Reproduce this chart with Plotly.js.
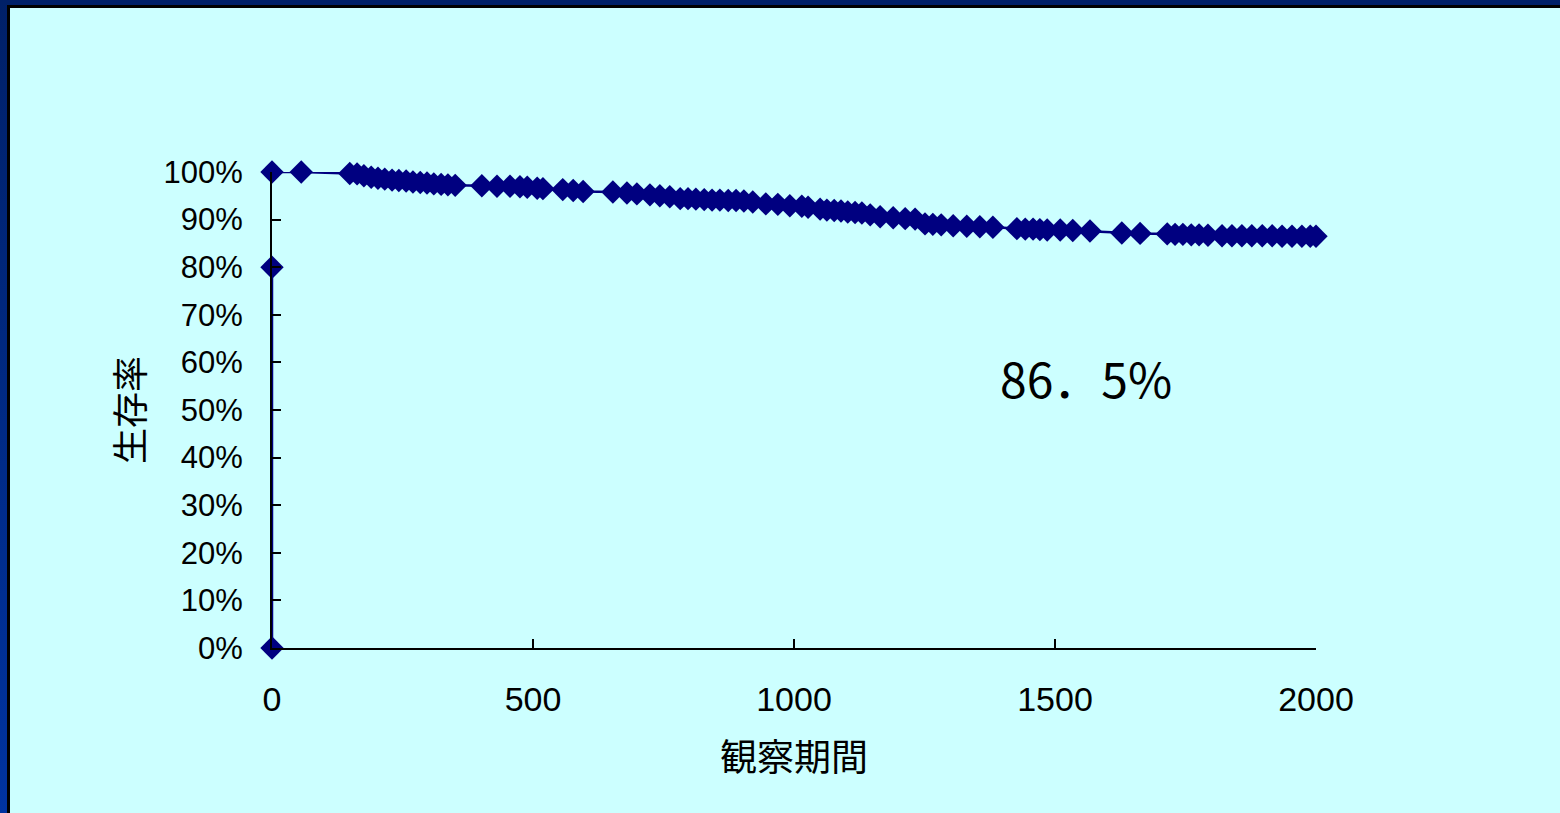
<!DOCTYPE html>
<html>
<head>
<meta charset="utf-8">
<script src="https://cdn.plot.ly/plotly-3.0.1.min.js"></script>
<style>
  html, body { margin: 0; padding: 0; background: #CCFFFF; overflow: hidden; }
  #wrap { position: relative; width: 1560px; height: 813px; }
  #chart { position: absolute; left: 0; top: 0; width: 1560px; height: 813px; }
  .frame { position: absolute; pointer-events: none; }
</style>
</head>
<body>
<div id="wrap">
  <div id="chart"></div>
  <div class="frame" style="left:0;top:0;width:1560px;height:5px;background:#002068;"></div>
  <div class="frame" style="left:0;top:0;width:7px;height:813px;background:linear-gradient(#002068,#0033A0);"></div>
  <div class="frame" style="left:7px;top:5px;width:1553px;height:3px;background:#000;"></div>
  <div class="frame" style="left:7px;top:5px;width:3px;height:808px;background:#000;"></div>
</div>
<script>
// Observation period (days) and survival rate (fraction)
const days = [0, 0, null,
  0, 56, 149, 163, 176, 190, 203, 216, 230, 243, 257, 270, 284, 297, 310, 324, 337, 351,
  402, 431, 456, 475, 489, 508, 519, 557, 577, 596, 653, 680, 699, 724,
  743, 762, 782, 797, 812, 828, 843, 858, 874, 889, 904, 921, 946, 969, 992, 1015, 1027,
  1050, 1063, 1077, 1090, 1103, 1117, 1130, 1146, 1165, 1190, 1213, 1232,
  1251, 1266, 1282, 1305, 1331, 1356, 1381,
  1427, 1443, 1458, 1471, 1485, 1510, 1534, 1567, 1628, 1663,
  1715, 1730, 1745, 1761, 1776, 1793,
  1820, 1839, 1858, 1877, 1897, 1916, 1935, 1954, 1973, 1989, 2000];
const survival = [0.0, 0.8, null,
  1.0, 1.0, 0.997, 0.996, 0.992, 0.989, 0.987, 0.985, 0.983, 0.982, 0.981, 0.979, 0.978, 0.977, 0.975, 0.974, 0.973, 0.972,
  0.971, 0.970, 0.970, 0.969, 0.968, 0.966, 0.965, 0.963, 0.961, 0.959, 0.958, 0.956, 0.954, 0.952,
  0.950, 0.948, 0.944, 0.944, 0.943, 0.942, 0.941, 0.941, 0.940, 0.940, 0.939, 0.937, 0.933, 0.932, 0.929, 0.928, 0.926,
  0.922, 0.920, 0.919, 0.918, 0.916, 0.915, 0.914, 0.910, 0.906, 0.904, 0.902, 0.901,
  0.891, 0.890, 0.889, 0.887, 0.886, 0.885, 0.884,
  0.881, 0.880, 0.880, 0.879, 0.878, 0.878, 0.877, 0.876, 0.872, 0.871,
  0.870, 0.869, 0.869, 0.868, 0.868, 0.867,
  0.866, 0.866, 0.866, 0.866, 0.866, 0.866, 0.865, 0.865, 0.865, 0.865, 0.865];
const xTicks = [0, 500, 1000, 1500, 2000];
const yTicks = [0, 0.1, 0.2, 0.3, 0.4, 0.5, 0.6, 0.7, 0.8, 0.9, 1.0];
const yTickText = ['0%', '10%', '20%', '30%', '40%', '50%', '60%', '70%', '80%', '90%', '100%'];
const xTitle = '観察期間';
const yTitle = '生存率';
const finalLabel = '86．5%';

const latin = 'Liberation Sans, Arial, sans-serif';
const cjk = 'Noto Sans CJK JP, sans-serif';

const trace = {
  x: days, y: survival, type: 'scatter', mode: 'lines+markers',
  connectgaps: false, cliponaxis: false,
  line: { color: '#000080', width: 2.5 },
  marker: { symbol: 'diamond', size: 18, color: '#000080' },
  hoverinfo: 'skip'
};

const layout = {
  width: 1560, height: 813,
  paper_bgcolor: '#CCFFFF', plot_bgcolor: '#CCFFFF',
  margin: { l: 272, r: 244, t: 172, b: 165, pad: 0 },
  showlegend: false,
  xaxis: {
    range: [0, 2000], tickvals: xTicks, ticktext: xTicks.map(String),
    showgrid: false, zeroline: false, showline: true, linecolor: '#000', linewidth: 2,
    ticks: 'inside', ticklen: 9, tickwidth: 2, tickcolor: '#000',
    tickfont: { family: latin, size: 34, color: '#000' }, ticklabelstandoff: 20,
    title: { text: xTitle, font: { family: cjk, size: 37, color: '#000' }, standoff: 28 },
    automargin: false
  },
  yaxis: {
    range: [0, 1], tickvals: yTicks, ticktext: yTickText,
    showgrid: false, zeroline: false, showline: true, linecolor: '#000', linewidth: 2,
    ticks: 'inside', ticklen: 9, tickwidth: 2, tickcolor: '#000',
    tickfont: { family: latin, size: 31, color: '#000' }, ticklabelstandoff: 21,
    title: { text: yTitle, font: { family: cjk, size: 36, color: '#000' }, standoff: 8 },
    automargin: false
  },
  annotations: [{
    xref: 'x', yref: 'y', x: 1559, y: 0.57, text: finalLabel, showarrow: false,
    font: { family: cjk, size: 48, color: '#000' }, xanchor: 'center', yanchor: 'middle'
  }]
};

Plotly.newPlot('chart', [trace], layout, { displayModeBar: false, staticPlot: true });
</script>
</body>
</html>
